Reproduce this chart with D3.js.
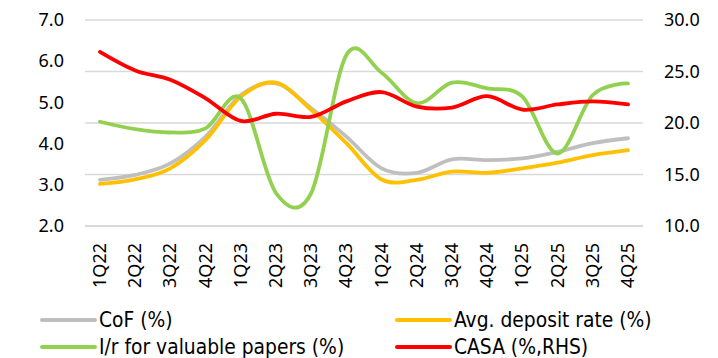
<!DOCTYPE html>
<html>
<head>
<meta charset="utf-8">
<script src="https://cdn.jsdelivr.net/npm/d3@7"></script>
<style>
  html, body { margin: 0; padding: 0; background: #fff; }
  svg { display: block; }
  .tick-label { font-family: "Noto Sans", sans-serif; font-size: 18px; fill: #000; }
  .legend-label { font-family: "Liberation Sans Narrow", "DejaVu Sans Condensed", sans-serif; font-size: 20.8px; fill: #000; }
</style>
</head>
<body>
<svg id="chart" width="718" height="358"></svg>
<script>
// Quarterly categories
const quarters = ["1Q22","2Q22","3Q22","4Q22","1Q23","2Q23","3Q23","4Q23",
                  "1Q24","2Q24","3Q24","4Q24","1Q25","2Q25","3Q25","4Q25"];

// Left-axis series (%)
const cof         = [3.12, 3.24, 3.52, 4.17, 5.18, 5.46, 4.86, 4.17, 3.40, 3.29, 3.62, 3.60, 3.64, 3.80, 4.01, 4.13];
const depositRate = [3.02, 3.13, 3.40, 4.09, 5.14, 5.48, 4.82, 4.01, 3.13, 3.12, 3.32, 3.29, 3.40, 3.54, 3.72, 3.84];
const valPapers   = [4.53, 4.35, 4.27, 4.37, 5.10, 2.80, 2.80, 6.15, 5.72, 4.98, 5.48, 5.34, 5.14, 3.76, 5.18, 5.46];

// Right-axis series (%)
const casa        = [26.9, 25.1, 24.2, 22.4, 20.2, 20.9, 20.6, 22.1, 23.0, 21.6, 21.5, 22.6, 21.3, 21.8, 22.1, 21.8];

// Axis ticks
const leftTicks  = [2, 3, 4, 5, 6, 7];
const rightTicks = [10, 15, 20, 25, 30];

const svg = d3.select("#chart");

const x = d3.scalePoint().domain(quarters).range([100, 628]);
const yL = d3.scaleLinear().domain([2, 7]).range([226, 20]);
const yR = d3.scaleLinear().domain([10, 30]).range([226, 20]);

// Gridlines follow the right axis
svg.append("g")
  .selectAll("line")
  .data(rightTicks)
  .join("line")
  .attr("x1", 85).attr("x2", 643)
  .attr("y1", d => yR(d)).attr("y2", d => yR(d))
  .attr("stroke", "#d9d9d9")
  .attr("stroke-width", d => d === 10 ? 2.2 : 1.5);

// Left axis labels
const leftAxis = svg.append("g")
  .attr("transform", "translate(64,0)")
  .call(d3.axisLeft(yL).tickValues(leftTicks).tickSize(0).tickPadding(0).tickFormat(d3.format(".1f")));
leftAxis.select(".domain").remove();
leftAxis.selectAll("text").attr("class", "tick-label").attr("font-size", null).attr("font-family", null);

// Right axis labels
const rightAxis = svg.append("g")
  .attr("transform", "translate(664,0)")
  .call(d3.axisRight(yR).tickValues(rightTicks).tickSize(0).tickPadding(0).tickFormat(d3.format(".1f")));
rightAxis.select(".domain").remove();
rightAxis.selectAll("text").attr("class", "tick-label").attr("font-size", null).attr("font-family", null);

// Rotated category labels
svg.append("g")
  .selectAll("text")
  .data(quarters)
  .join("text")
  .attr("class", "tick-label")
  .attr("transform", d => `translate(${x(d) + 6},243) rotate(-90)`)
  .attr("text-anchor", "end")
  .text(d => d);

const curve = d3.curveCardinal.tension(0);

const series = [
  { name: "CoF (%)",                     values: cof,         y: yL, color: "#bfbfbf" },
  { name: "Avg. deposit rate (%)",       values: depositRate, y: yL, color: "#ffc000" },
  { name: "I/r for valuable papers (%)", values: valPapers,   y: yL, color: "#92d050" },
  { name: "CASA (%,RHS)",                values: casa,        y: yR, color: "#ff0000" }
];

series.forEach(s => {
  const line = d3.line()
    .x((d, i) => x(quarters[i]))
    .y(d => s.y(d))
    .curve(curve);
  svg.append("path")
    .datum(s.values)
    .attr("fill", "none")
    .attr("stroke", s.color)
    .attr("stroke-width", 3.8)
    .attr("stroke-linecap", "round")
    .attr("stroke-linejoin", "round")
    .attr("d", line);
});

// Legend: two rows, two columns
const legendPos = [
  { x: 42,  y: 320 },
  { x: 397, y: 320 },
  { x: 42,  y: 347 },
  { x: 397, y: 347 }
];
const legend = svg.append("g");
series.forEach((s, k) => {
  const p = legendPos[k];
  legend.append("line")
    .attr("x1", p.x).attr("x2", p.x + 53)
    .attr("y1", p.y).attr("y2", p.y)
    .attr("stroke", s.color).attr("stroke-width", 4).attr("stroke-linecap", "round");
  legend.append("text")
    .attr("class", "legend-label")
    .attr("x", p.x + 57)
    .attr("y", p.y)
    .attr("dominant-baseline", "central")
    .text(s.name);
});
</script>
</body>
</html>
